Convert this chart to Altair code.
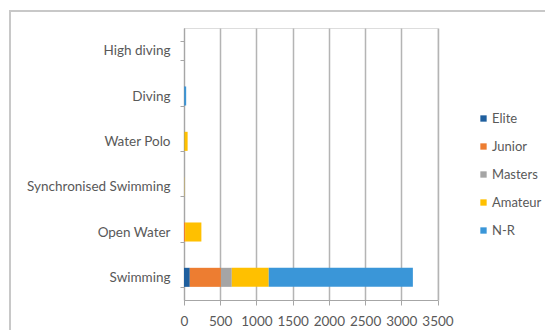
import altair as alt
import pandas as pd

sports = ["High diving", "Diving", "Water Polo", "Synchronised Swimming", "Open Water", "Swimming"]
levels = ["Elite", "Junior", "Masters", "Amateur", "N-R"]
colors = ["#1f5f9e", "#ed7d31", "#a5a5a5", "#ffc000", "#3a96d8"]
x_ticks = [0, 500, 1000, 1500, 2000, 2500, 3000, 3500]

elite   = [0, 5, 5, 0, 0, 80]
junior  = [0, 0, 0, 0, 15, 430]
masters = [0, 0, 0, 0, 0, 150]
amateur = [0, 0, 45, 3, 225, 510]
nr      = [0, 25, 0, 0, 0, 1990]

rows = []
for series, name in zip([elite, junior, masters, amateur, nr], levels):
    for s, v in zip(sports, series):
        rows.append({"sport": s, "level": name, "value": v, "ord": levels.index(name)})
df = pd.DataFrame(rows)

FONT = "Lato"
TXT = "#595959"

bars = alt.Chart(df).mark_bar().encode(
    y=alt.Y("sport:N", sort=sports, title=None,
            scale=alt.Scale(paddingInner=0.58, paddingOuter=0.29),
            axis=alt.Axis(labelFont=FONT, labelFontSize=13.5, labelColor=TXT,
                          labelPadding=10, domainColor="#a6a6a6", tickColor="#a6a6a6",
                          tickSize=4, tickBand="extent", grid=False)),
    x=alt.X("value:Q", title=None, stack="zero",
            scale=alt.Scale(domain=[0, 3500], nice=False),
            axis=alt.Axis(values=x_ticks, format="d", labelOverlap=False, labelFlush=False,
                          labelFont=FONT, labelFontSize=13.5, labelColor=TXT,
                          labelPadding=9, tickSize=5, domainColor="#a6a6a6",
                          tickColor="#a6a6a6", gridColor="#b4b4b4", gridWidth=1.5)),
    color=alt.Color("level:N", sort=levels,
                    scale=alt.Scale(domain=levels, range=colors),
                    legend=alt.Legend(title=None, orient="none", legendX=293, legendY=84,
                                      symbolType="square", symbolSize=40, symbolStrokeWidth=0,
                                      labelFont=FONT, labelFontSize=13, labelColor=TXT,
                                      labelOffset=2, rowPadding=14)),
    order=alt.Order("ord:Q"),
)

frame = alt.Chart(pd.DataFrame({"k": [0]})).mark_rect(
    fill=None, stroke="#c8c8c8", strokeWidth=2
).encode(x=alt.value(-174), x2=alt.value(400), y=alt.value(-17), y2=alt.value(340))

chart = alt.layer(frame, bars).properties(
    width=253.5, height=272,
    autosize=alt.AutoSizeParams(type="none"),
    padding={"left": 176, "top": 20, "right": 107, "bottom": 30},
).configure_view(stroke=None).configure(background="white")

chart.save("out.html", embed_options={"renderer": "svg", "actions": False})
